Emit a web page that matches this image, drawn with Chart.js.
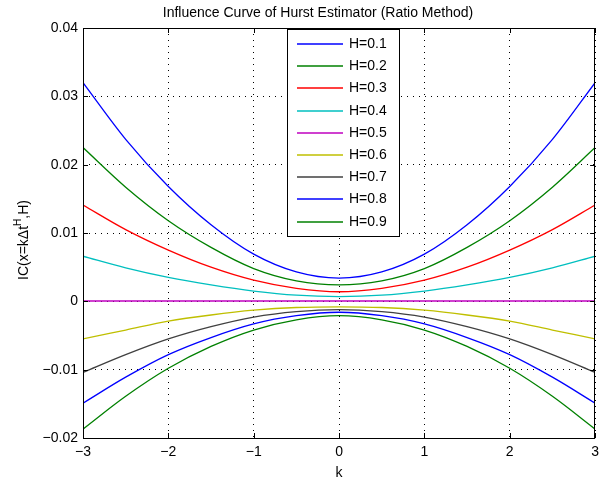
<!DOCTYPE html>
<html>
<head>
<meta charset="utf-8">
<script src="https://cdn.jsdelivr.net/npm/chart.js@4/dist/chart.umd.min.js"></script>
<style>
  html, body { margin: 0; padding: 0; background: #fff; }
  #grafico { display: block; }
</style>
</head>
<body>
<canvas id="grafico" width="605" height="482"></canvas>
<script>
// valores de k (eje x)
const valoresK = [-3, -2.5, -2, -1.5, -1, -0.5, 0, 0.5, 1, 1.5, 2, 2.5, 3];

// curvas, una por cada H
const curvaH01 = [0.0320, 0.0237, 0.0168, 0.0112, 0.0069, 0.0043, 0.0034, 0.0043, 0.0069, 0.0112, 0.0168, 0.0237, 0.0320];
const curvaH02 = [0.0225, 0.0167, 0.0118, 0.0079, 0.0048, 0.0030, 0.0024, 0.0030, 0.0048, 0.0079, 0.0118, 0.0167, 0.0225];
const curvaH03 = [0.0141, 0.0105, 0.0075, 0.0050, 0.0031, 0.0019, 0.0014, 0.0019, 0.0031, 0.0050, 0.0075, 0.0105, 0.0141];
const curvaH04 = [0.0066, 0.0049, 0.0035, 0.0024, 0.0015, 0.0009, 0.0007, 0.0009, 0.0015, 0.0024, 0.0035, 0.0049, 0.0066];
const curvaH05 = [0.00005, 0.00005, 0.00005, 0.00005, 0.00005, 0.00005, 0.00005, 0.00005, 0.00005, 0.00005, 0.00005, 0.00005, 0.00005];
const curvaH06 = [-0.0055, -0.0042, -0.0029, -0.0020, -0.0013, -0.0009, -0.0008, -0.0009, -0.0013, -0.0020, -0.0029, -0.0042, -0.0055];
const curvaH07 = [-0.0104, -0.0078, -0.0055, -0.0037, -0.0023, -0.0015, -0.0012, -0.0015, -0.0023, -0.0037, -0.0055, -0.0078, -0.0104];
const curvaH08 = [-0.0149, -0.0111, -0.0078, -0.0053, -0.0033, -0.0021, -0.0016, -0.0021, -0.0033, -0.0053, -0.0078, -0.0111, -0.0149];
const curvaH09 = [-0.0187, -0.0139, -0.0098, -0.0066, -0.0042, -0.0027, -0.0021, -0.0027, -0.0042, -0.0066, -0.0098, -0.0139, -0.0187];

const etiquetas = ['H=0.1', 'H=0.2', 'H=0.3', 'H=0.4', 'H=0.5', 'H=0.6', 'H=0.7', 'H=0.8', 'H=0.9'];
const curvas = [curvaH01, curvaH02, curvaH03, curvaH04, curvaH05, curvaH06, curvaH07, curvaH08, curvaH09];
const colores = ['#0000ff', '#008000', '#ff0000', '#00bfbf', '#bf00bf', '#bfbf00', '#404040', '#0000ff', '#008000'];

const titulo = 'Influence Curve of Hurst Estimator (Ratio Method)';
const fuente = '"Liberation Sans", Arial, Helvetica, sans-serif';

// titulo, marco, marcas interiores, leyenda y titulo del eje y (con superindice)
const marcoPlugin = {
    id: 'marco',
    afterDraw(chart) {
        const { ctx, chartArea: a, scales: { x, y } } = chart;
        ctx.save();

        ctx.fillStyle = '#000';
        ctx.font = '14px ' + fuente;
        ctx.textAlign = 'center';
        ctx.textBaseline = 'middle';
        ctx.fillText(titulo, 318, 13);

        ctx.strokeStyle = '#000';
        ctx.lineWidth = 1;
        ctx.strokeRect(Math.round(a.left) + 0.5, Math.round(a.top) + 0.5,
            Math.round(a.right - a.left) - 1, Math.round(a.bottom - a.top));

        // marcas hacia adentro
        ctx.beginPath();
        x.ticks.forEach(t => {
            const px = Math.round(x.getPixelForValue(t.value)) + 0.5;
            ctx.moveTo(px, a.bottom); ctx.lineTo(px, a.bottom - 5);
            ctx.moveTo(px, a.top); ctx.lineTo(px, a.top + 5);
        });
        y.ticks.forEach(t => {
            const py = Math.round(y.getPixelForValue(t.value)) + 0.5;
            ctx.moveTo(a.left, py); ctx.lineTo(a.left + 5, py);
            ctx.moveTo(a.right, py); ctx.lineTo(a.right - 5, py);
        });
        ctx.stroke();

        // leyenda
        const lx = 287, ly = 29, lw = 112, lh = 207;
        ctx.fillStyle = '#fff';
        ctx.fillRect(lx, ly, lw, lh);
        ctx.strokeStyle = '#000';
        ctx.strokeRect(lx + 0.5, ly + 0.5, lw, lh);
        ctx.font = '14px ' + fuente;
        ctx.textBaseline = 'middle';
        ctx.textAlign = 'left';
        etiquetas.forEach((txt, i) => {
            const cy = Math.round(44 + i * 22.2);
            ctx.strokeStyle = colores[i];
            ctx.lineWidth = 1.3;
            ctx.beginPath();
            ctx.moveTo(297, cy); ctx.lineTo(343, cy);
            ctx.stroke();
            ctx.fillStyle = '#000';
            ctx.fillText(txt, 349, cy);
        });

        // titulo eje y: IC(x=kΔt^H,H)
        const p1 = 'IC(x=k\u0394t', sup = 'H', p3 = ',H)';
        ctx.translate(24, 240);
        ctx.rotate(-Math.PI / 2);
        ctx.font = '14px ' + fuente;
        const w1 = ctx.measureText(p1).width, w3 = ctx.measureText(p3).width;
        ctx.font = '10px ' + fuente;
        const w2 = ctx.measureText(sup).width;
        let sx = -(w1 + w2 + w3) / 2;
        ctx.fillStyle = '#000';
        ctx.font = '14px ' + fuente;
        ctx.fillText(p1, sx, 0);
        sx += w1;
        ctx.font = '10px ' + fuente;
        ctx.fillText(sup, sx, -6);
        sx += w2;
        ctx.font = '14px ' + fuente;
        ctx.fillText(p3, sx, 0);
        ctx.restore();
    }
};

const ctx = document.getElementById('grafico').getContext('2d');

new Chart(ctx, {
    type: 'line',
    data: {
        datasets: curvas.map((serie, i) => ({
            label: etiquetas[i],
            data: valoresK.map((k, j) => ({ x: k, y: serie[j] })),
            borderColor: colores[i],
            backgroundColor: colores[i],
            borderWidth: 1.3,
            pointRadius: 0,
            cubicInterpolationMode: 'monotone',
            fill: false,
        })),
    },
    options: {
        responsive: false,
        animation: false,
        devicePixelRatio: 1,
        layout: { padding: { left: 0, right: 1, top: 28, bottom: 0 } },
        plugins: {
            legend: { display: false },
            tooltip: { enabled: false },
            title: { display: false },
        },
        scales: {
            x: {
                type: 'linear',
                min: -3,
                max: 3,
                afterFit: (s) => { s.height = 44; },
                ticks: {
                    stepSize: 1,
                    color: '#000',
                    padding: 6,
                    font: { family: fuente, size: 14 },
                    callback: (v) => String(v).replace('-', '\u2212'),
                },
                grid: { color: '#000', lineWidth: 1, drawTicks: false },
                border: { display: false, dash: [1, 5] },
                title: {
                    display: true,
                    text: 'k',
                    color: '#000',
                    font: { family: fuente, size: 14 },
                    padding: { top: 0, bottom: 0 },
                },
            },
            y: {
                min: -0.02,
                max: 0.04,
                afterFit: (s) => { s.width = 83; },
                ticks: {
                    stepSize: 0.01,
                    color: '#000',
                    padding: 5,
                    font: { family: fuente, size: 14 },
                    callback: (v) => {
                        const r = Math.round(v * 100) / 100;
                        return r === 0 ? '0' : String(r).replace('-', '\u2212');
                    },
                },
                grid: { color: '#000', lineWidth: 1, drawTicks: false },
                border: { display: false, dash: [1, 5] },
            },
        },
    },
    plugins: [marcoPlugin],
});
</script>
</body>
</html>
